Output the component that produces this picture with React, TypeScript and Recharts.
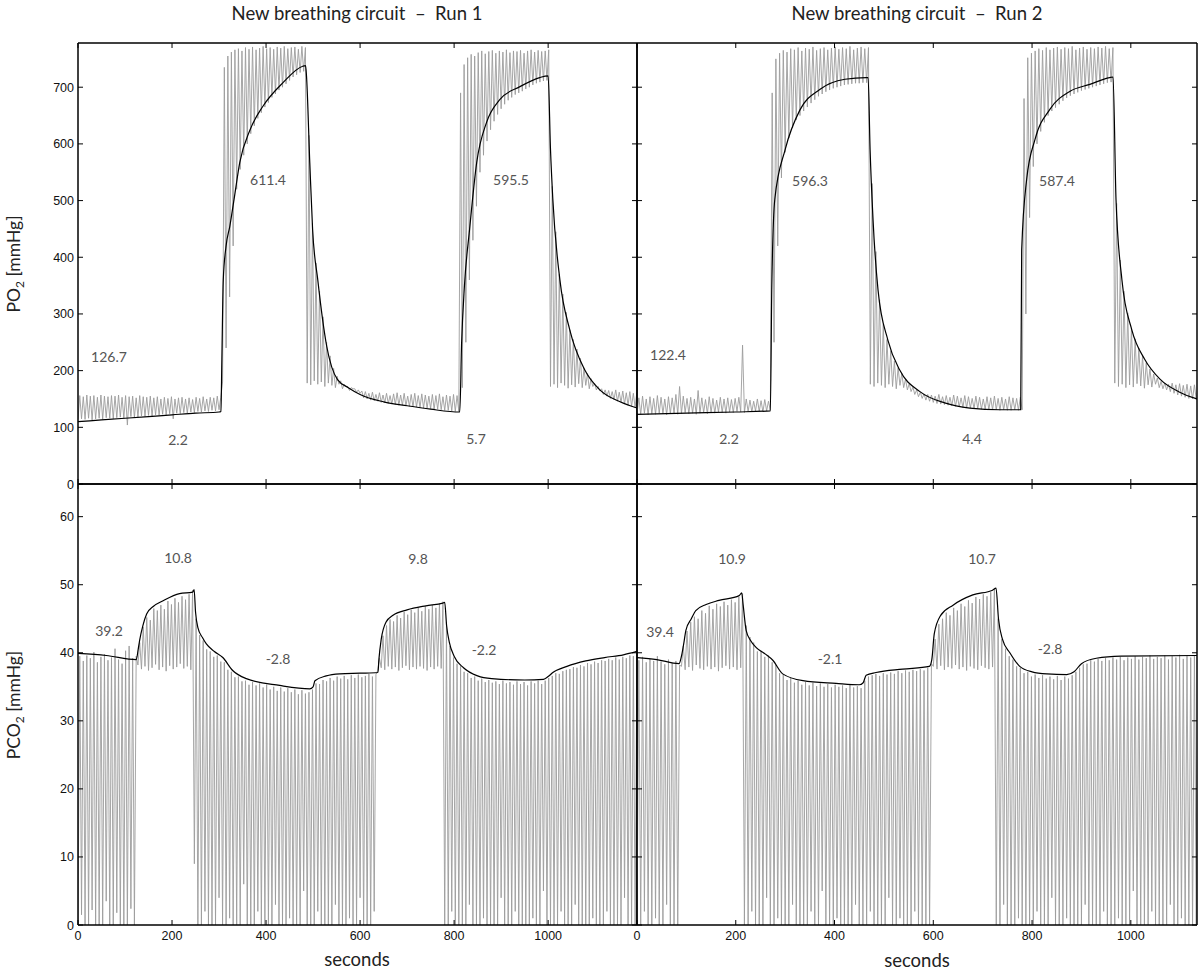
import React from "react";
import { LineChart, Line, XAxis, YAxis } from "recharts";

// one breath every 7.5 s: trough sample at the start, peak sample half way
const BREATH_SECONDS = 7.5;

const xTicks = [0, 200, 400, 600, 800, 1000];
const po2Ticks = [0, 100, 200, 300, 400, 500, 600, 700];
const pco2Ticks = [0, 10, 20, 30, 40, 50, 60];

// ---- Run 1, PO2 (raw trace, per breath) ----
const run1Po2Troughs = [
  114, 115, 114, 116, 113, 115, 116, 114, 117, 116,
  115, 117, 118, 116, 104, 119, 117, 118, 120, 119,
  121, 120, 122, 121, 123, 122, 124, 115, 125, 124,
  126, 125, 127, 126, 128, 127, 129, 128, 130, 129,
  131, 180, 240, 330, 420, 520, 555, 580, 600, 618,
  632, 645, 655, 665, 673, 682, 688, 695, 700, 706,
  712, 718, 722, 726, 728, 178, 175, 182, 176, 180,
  172, 178, 174, 170, 176, 168, 172, 165, 168, 162,
  160, 152, 150, 148, 147, 146, 144, 143, 142, 141,
  140, 139, 139, 138, 137, 136, 136, 135, 134, 134,
  133, 132, 132, 131, 130, 130, 129, 128, 128, 170,
  250, 360, 430, 490, 550, 580, 605, 625, 640, 652,
  662, 670, 677, 682, 687, 690, 693, 697, 700, 704,
  707, 709, 711, 712, 172, 176, 170, 178, 174, 169,
  175, 171, 177, 170, 174, 168, 172, 166, 164, 158,
  155, 151, 149, 146, 144, 141, 139, 137, 135,
];
const run1Po2Peaks = [
  156, 154, 157, 155, 156, 153, 157, 155, 154, 156,
  155, 157, 153, 156, 154, 155, 152, 156, 154, 153,
  155, 152, 154, 150, 153, 151, 154, 150, 152, 153,
  150, 152, 149, 153, 151, 154, 150, 153, 152, 155,
  153, 735, 755, 762, 766, 768, 764, 770, 767, 771,
  766, 769, 772, 768, 770, 767, 771, 769, 772, 768,
  770, 771, 767, 772, 770, 615, 460, 390, 340, 295,
  250, 226, 204, 190, 182, 176, 172, 170, 168, 166,
  164, 163, 160, 162, 158, 161, 157, 160, 156, 159,
  161, 157, 160, 155, 158, 160, 156, 159, 157, 155,
  158, 156, 159, 154, 157, 155, 158, 156, 690, 740,
  752, 758, 755, 761, 764, 759, 763, 765, 760, 764,
  762, 766, 761, 764, 763, 765, 760, 764, 766, 762,
  765, 763, 764, 766, 525, 445, 370, 335, 303, 272,
  255, 238, 222, 205, 195, 186, 178, 172, 168, 166,
  165, 163, 166, 162, 164, 161, 163, 160, 162,
];
// smoothed PO2, [seconds, mmHg]
const run1Po2Mean: [number, number][] = [
  [0, 110], [50, 113], [100, 116], [150, 119], [200, 122], [250, 125], [300, 127],
  [304, 128], [306, 220], [309, 360], [315, 420], [323, 455], [333, 508], [344, 567],
  [366, 625], [393, 666], [436, 708], [478, 737], [484, 738], [486, 720], [493, 567],
  [499, 449], [510, 360], [529, 243], [552, 184], [575, 170], [600, 158], [650, 145],
  [700, 138], [750, 132], [812, 127], [816, 250], [822, 350], [833, 450], [848, 567],
  [869, 638], [897, 678], [940, 701], [982, 717], [1000, 720], [1005, 590], [1010, 502],
  [1025, 360], [1046, 272], [1078, 201], [1110, 166], [1153, 145], [1189, 134],
];

// ---- Run 2, PO2 ----
const run2Po2Troughs = [
  124, 123, 125, 122, 124, 123, 125, 124, 122, 124,
  125, 123, 124, 126, 124, 125, 123, 125, 126, 124,
  126, 125, 127, 126, 125, 127, 126, 128, 127, 126,
  128, 127, 129, 128, 127, 129, 130, 250, 420, 540,
  585, 610, 628, 642, 650, 658, 665, 672, 678, 684,
  688, 692, 695, 698, 700, 702, 704, 705, 706, 707,
  707, 708, 708, 176, 172, 178, 174, 170, 176, 172,
  168, 174, 170, 166, 163, 158, 154, 151, 148, 146,
  144, 142, 141, 140, 139, 138, 137, 136, 135, 134,
  134, 133, 133, 132, 132, 131, 131, 131, 130, 131,
  130, 130, 131, 130, 131, 300, 470, 560, 600, 622,
  638, 650, 658, 664, 670, 676, 681, 685, 688, 691,
  694, 696, 698, 700, 702, 704, 706, 708, 709, 178,
  172, 176, 170, 175, 171, 177, 173, 169, 175, 171,
  176, 170, 168, 166, 163, 160, 157, 155, 153, 151,
  150, 149,
];
const run2Po2Peaks = [
  152, 155, 150, 154, 151, 156, 153, 150, 154, 152,
  158, 172, 155, 151, 153, 150, 165, 152, 149, 154,
  151, 148, 153, 150, 152, 149, 151, 153, 245, 150,
  148, 146, 150, 147, 149, 146, 690, 750, 760, 765,
  762, 768, 766, 770, 764, 769, 767, 771, 765, 768,
  770, 766, 769, 771, 767, 770, 768, 772, 766, 769,
  771, 768, 770, 530, 410, 325, 282, 255, 235, 217,
  205, 195, 185, 177, 171, 166, 162, 159, 158, 157,
  155, 158, 154, 156, 153, 157, 155, 152, 156, 154,
  151, 155, 153, 150, 154, 152, 155, 151, 153, 150,
  154, 152, 151, 153, 680, 752, 760, 764, 768, 765,
  770, 766, 769, 771, 767, 770, 768, 772, 766, 769,
  771, 767, 770, 768, 771, 769, 772, 768, 770, 495,
  395, 340, 302, 275, 256, 240, 226, 214, 203, 194,
  187, 181, 178, 176, 178, 175, 177, 174, 176, 173,
  175, 177,
];
const run2Po2Mean: [number, number][] = [
  [0, 123], [100, 125], [200, 127], [270, 129], [273, 350], [279, 502], [300, 590],
  [330, 660], [370, 696], [421, 714], [464, 717], [468, 717], [472, 590], [478, 466],
  [488, 343], [508, 254], [532, 201], [573, 163], [623, 143], [674, 134], [735, 131],
  [777, 131], [779, 413], [789, 537], [806, 608], [836, 661], [877, 693], [917, 705],
  [957, 717], [964, 718], [970, 502], [982, 360], [1002, 272], [1028, 220], [1059, 185],
  [1099, 162], [1134, 150],
];

// ---- Run 1, PCO2 ----
const run1Pco2Troughs = [
  0, 1.5, 0, 0, 2.2, 0, 0, 0, 3.5, 0,
  0, 1.8, 0, 0, 0, 2.4, 0, 38.2, 37.6, 38.0,
  37.4, 37.8, 38.3, 37.5, 37.9, 37.3, 38.1, 37.6, 37.9, 38.4,
  37.7, 38.0, 37.5, 9, 0, 0, 2, 0, 0, 0,
  4, 0, 0, 1, 0, 0, 0, 6, 0, 0,
  0, 2, 0, 0, 0, 0, 3, 0, 0, 0,
  1, 0, 0, 0, 5, 0, 0, 0, 2, 0,
  0, 0, 0, 3, 0, 0, 0, 1, 0, 0,
  4, 0, 0, 0, 2, 37.4, 37.8, 37.5, 38.0, 37.6,
  37.9, 37.4, 37.8, 38.1, 37.5, 37.9, 37.6, 38.0, 37.7, 37.4,
  37.9, 37.6, 38.0, 37.7, 0, 0, 2, 0, 0, 0,
  0, 3, 0, 0, 0, 1, 0, 0, 0, 0,
  4, 0, 0, 0, 2, 0, 0, 0, 0, 1,
  0, 0, 5, 0, 0, 0, 0, 2, 0, 0,
  0, 3, 0, 0, 0, 0, 1, 0, 0, 0,
  2, 0, 0, 0, 0, 4, 0, 0, 0,
];
const run1Pco2Peaks = [
  39.5, 38.8, 39.6, 39.2, 40.1, 38.6, 39.4, 39.8, 38.9, 39.3,
  40.6, 39.0, 38.4, 40.3, 41.0, 39.2, 39.5, 41.5, 43.8, 45.2,
  44.8, 46.5, 46.2, 47.0, 46.4, 47.6, 47.1, 48.0, 47.4, 48.3,
  47.8, 48.6, 49.2, 45.0, 42.6, 41.8, 40.5, 40.2, 39.4, 39.6,
  38.7, 38.6, 37.5, 37.2, 36.4, 36.5, 35.8, 35.9, 35.3, 35.7,
  35.2, 35.5, 34.9, 35.3, 34.6, 35.0, 34.4, 34.9, 34.3, 34.8,
  34.2, 34.6, 33.9, 34.5, 34.0, 34.2, 34.6, 35.5, 35.4, 36.0,
  35.8, 36.3, 35.9, 36.5, 36.2, 36.6, 36.1, 36.7, 36.3, 36.8,
  36.4, 36.6, 36.9, 36.5, 36.8, 39.2, 42.5, 44.0, 44.9, 44.6,
  45.5, 45.1, 46.0, 45.6, 46.3, 45.9, 46.6, 46.1, 46.8, 46.4,
  47.0, 46.6, 47.2, 47.5, 44.5, 41.0, 39.3, 38.4, 38.0, 37.2,
  37.0, 36.3, 36.5, 35.9, 36.2, 35.7, 36.0, 35.6, 35.8, 35.4,
  35.9, 35.5, 35.7, 35.3, 35.8, 35.4, 35.7, 35.2, 35.8, 35.5,
  35.9, 35.4, 35.9, 36.3, 36.6, 37.0, 36.9, 37.3, 37.5, 37.6,
  37.9, 37.8, 38.2, 38.0, 38.5, 38.3, 38.7, 38.5, 38.9, 38.8,
  39.1, 38.9, 39.3, 39.0, 39.4, 39.2, 39.6, 39.5, 39.9,
];
const run1Pco2Mean: [number, number][] = [
  [0, 39.9], [60, 39.6], [124, 39.0], [128, 40.5], [131, 41.8], [138, 44.0], [146, 45.7],
  [160, 46.8], [180, 47.6], [216, 48.7], [244, 48.9], [247, 49.3], [250, 46.0], [255, 43.7],
  [265, 42.2], [273, 41.3], [290, 40.2], [308, 39.3], [329, 37.4], [358, 36.2], [429, 35.2],
  [493, 34.7], [500, 35.0], [504, 35.9], [528, 36.6], [557, 36.9], [600, 37.0], [638, 37.1],
  [640, 39.0], [645, 42.0], [655, 44.5], [670, 45.5], [700, 46.3], [740, 46.9], [776, 47.3],
  [780, 47.4], [784, 44.0], [790, 41.5], [800, 39.5], [820, 37.8], [850, 36.6], [880, 36.2],
  [950, 36.0], [990, 36.1], [1000, 36.5], [1010, 37.1], [1040, 38.0], [1080, 38.8],
  [1120, 39.3], [1160, 39.7], [1189, 40.2],
];

// ---- Run 2, PCO2 ----
const run2Pco2Troughs = [
  0, 0, 2, 0, 0, 1, 0, 0, 3, 0,
  0, 0, 38.0, 37.5, 37.9, 37.4, 38.2, 37.7, 37.5, 38.0,
  37.6, 37.9, 37.3, 37.8, 38.1, 37.6, 37.9, 37.5, 37.8, 0,
  0, 2, 0, 0, 0, 4, 0, 0, 1, 0,
  0, 0, 3, 0, 0, 0, 0, 2, 0, 0,
  5, 0, 0, 0, 1, 0, 0, 0, 0, 3,
  0, 0, 0, 2, 0, 0, 0, 0, 4, 0,
  0, 1, 0, 0, 0, 2, 0, 0, 0, 0,
  38.0, 37.6, 38.1, 37.5, 37.9, 37.7, 38.2, 37.6, 37.9, 37.4,
  38.0, 37.7, 37.5, 38.1, 37.8, 37.6, 37.9, 0, 0, 3,
  0, 0, 0, 1, 0, 0, 0, 0, 2, 0,
  0, 0, 4, 0, 0, 0, 1, 0, 0, 0,
  0, 3, 0, 0, 0, 0, 2, 0, 0, 0,
  1, 0, 0, 0, 5, 0, 0, 0, 0, 2,
  0, 0, 0, 0, 3, 0, 0, 1, 0, 0,
  0, 0,
];
const run2Pco2Peaks = [
  38.9, 39.4, 38.6, 39.1, 38.8, 39.5, 38.7, 38.3, 39.0, 38.5,
  38.8, 38.2, 41.0, 43.2, 44.5, 45.3, 45.0, 46.2, 45.8, 46.9,
  46.4, 47.2, 46.8, 47.5, 47.0, 47.8, 47.4, 48.2, 48.7, 44.0,
  42.3, 41.5, 40.2, 40.3, 39.4, 39.6, 38.6, 38.2, 37.0, 36.8,
  36.0, 36.3, 35.6, 35.9, 35.3, 35.7, 35.2, 35.6, 35.1, 35.5,
  35.0, 35.4, 34.9, 35.3, 35.0, 35.2, 34.8, 35.3, 34.9, 35.1,
  34.8, 35.9, 36.5, 36.7, 36.9, 36.6, 37.0, 36.8, 37.1, 36.9,
  37.3, 37.0, 37.4, 37.2, 37.5, 37.3, 37.6, 37.4, 37.8, 38.4,
  42.0, 44.2, 45.0, 45.9, 45.5, 46.6, 46.2, 47.2, 46.8, 47.7,
  47.3, 48.2, 47.9, 48.6, 48.3, 48.9, 49.4, 45.0, 42.0, 40.6,
  39.5, 39.0, 38.0, 37.8, 37.0, 37.2, 36.5, 36.8, 36.3, 36.7,
  36.2, 36.5, 36.1, 36.6, 36.0, 36.5, 36.2, 36.7, 37.2, 37.8,
  38.3, 38.4, 38.9, 38.7, 39.1, 38.8, 39.2, 38.9, 39.3, 39.0,
  39.4, 38.9, 39.3, 39.1, 39.5, 39.0, 39.4, 39.2, 39.6, 39.1,
  39.4, 39.2, 39.6, 39.0, 39.5, 39.3, 39.7, 39.1, 39.5, 39.3,
  39.6, 39.4,
];
const run2Pco2Mean: [number, number][] = [
  [0, 39.3], [40, 39.0], [85, 38.4], [90, 39.5], [95, 41.5], [99, 43.3], [110, 45.0],
  [119, 46.2], [140, 47.1], [166, 47.7], [207, 48.4], [212, 48.8], [215, 47.0], [221, 43.3],
  [230, 41.8], [241, 40.8], [260, 39.8], [275, 38.9], [295, 36.9], [336, 35.9], [403, 35.5],
  [450, 35.3], [458, 35.6], [464, 36.7], [484, 37.1], [538, 37.6], [592, 38.0], [597, 39.0],
  [602, 42.8], [615, 45.5], [640, 47.0], [680, 48.5], [720, 49.2], [727, 49.5], [732, 45.0],
  [740, 42.0], [755, 40.0], [775, 38.0], [800, 37.2], [830, 36.9], [870, 36.8], [885, 37.2],
  [900, 38.4], [930, 39.2], [980, 39.5], [1134, 39.6],
];

type Pt = { t: number; v: number };

function breathTrace(troughs: number[], peaks: number[]): Pt[] {
  const out: Pt[] = [];
  troughs.forEach((low, i) => {
    out.push({ t: i * BREATH_SECONDS, v: low });
    out.push({ t: i * BREATH_SECONDS + BREATH_SECONDS / 2, v: peaks[i] });
  });
  return out;
}

const toPts = (rows: [number, number][]): Pt[] => rows.map(([t, v]) => ({ t, v }));

const TICK_FONT = '"Liberation Sans", Arial, Helvetica, sans-serif';
const HUMAN_FONT = 'Lato, "Open Sans", "Noto Sans", sans-serif';
const TICK_LEN = 5;
const frame = { stroke: "#000", strokeWidth: 1.5 };
const GAP = "\u00a0\u00a0–\u00a0\u00a0";

type Side = "bottom" | "top" | "left" | "right";

function tickFor(side: Side, showLabel: boolean) {
  return (props: any) => {
    const { x, y, payload } = props;
    let x2 = x;
    let y2 = y;
    if (side === "bottom") y2 = y - TICK_LEN;
    if (side === "top") y2 = y + TICK_LEN;
    if (side === "left") x2 = x + TICK_LEN;
    if (side === "right") x2 = x - TICK_LEN;
    return (
      <g>
        <line x1={x} y1={y} x2={x2} y2={y2} stroke="#000" strokeWidth={1} />
        {showLabel && side === "bottom" && (
          <text x={x} y={y + 15} textAnchor="middle" fontFamily={TICK_FONT} fontSize={12.5} fill="#111">
            {payload.value}
          </text>
        )}
        {showLabel && side === "left" && (
          <text x={x - 4} y={y + 4.5} textAnchor="end" fontFamily={TICK_FONT} fontSize={12.5} fill="#111">
            {payload.value}
          </text>
        )}
      </g>
    );
  };
}

interface PanelProps {
  trace: Pt[];
  mean: Pt[];
  xMax: number;
  yMax: number;
  yTicks: number[];
  left: number;
  right: number;
  top: number;
  bottom: number;
  yLabels: boolean;
  xLabels: boolean;
}

// axes are 1px thick (recharts skips 0-sized axes), the margins take that into account
function Panel({ trace, mean, xMax, yMax, yTicks, left, right, top, bottom, yLabels, xLabels }: PanelProps) {
  return (
    <div style={{ position: "absolute", left: 0, top: 0 }}>
      <LineChart
        width={1200}
        height={971}
        margin={{ left: left - 1, top: top - 1, right: 1200 - right - 1, bottom: 971 - bottom - 1 }}
      >
        <XAxis
          xAxisId="b"
          type="number"
          dataKey="t"
          orientation="bottom"
          domain={[0, xMax]}
          allowDataOverflow
          ticks={xTicks}
          interval={0}
          height={1}
          tickSize={0}
          tickMargin={0}
          tickLine={false}
          axisLine={frame}
          tick={tickFor("bottom", xLabels)}
        />
        <XAxis
          xAxisId="t"
          type="number"
          dataKey="t"
          orientation="top"
          domain={[0, xMax]}
          allowDataOverflow
          ticks={xTicks}
          interval={0}
          height={1}
          tickSize={0}
          tickMargin={0}
          tickLine={false}
          axisLine={frame}
          tick={tickFor("top", false)}
        />
        <YAxis
          yAxisId="l"
          type="number"
          orientation="left"
          domain={[0, yMax]}
          allowDataOverflow
          ticks={yTicks}
          interval={0}
          width={1}
          tickSize={0}
          tickMargin={0}
          tickLine={false}
          axisLine={frame}
          tick={tickFor("left", yLabels)}
        />
        <YAxis
          yAxisId="r"
          type="number"
          orientation="right"
          domain={[0, yMax]}
          allowDataOverflow
          ticks={yTicks}
          interval={0}
          width={1}
          tickSize={0}
          tickMargin={0}
          tickLine={false}
          axisLine={frame}
          tick={tickFor("right", false)}
        />
        <Line
          xAxisId="b"
          yAxisId="l"
          data={trace}
          dataKey="v"
          type="linear"
          stroke="#9c9c9c"
          strokeWidth={0.9}
          dot={false}
          activeDot={false}
          isAnimationActive={false}
        />
        <Line
          xAxisId="b"
          yAxisId="l"
          data={mean}
          dataKey="v"
          type="monotone"
          stroke="#000"
          strokeWidth={1.2}
          dot={false}
          activeDot={false}
          isAnimationActive={false}
        />
      </LineChart>
    </div>
  );
}

const note = { fontFamily: HUMAN_FONT, fontSize: 14, fill: "#555", textAnchor: "middle" as const, dominantBaseline: "central" as const };

function Note({ x, y, children }: { x: number; y: number; children: React.ReactNode }) {
  return (
    <text x={x} y={y} {...note}>
      {children}
    </text>
  );
}

export default function App() {
  const X_L = 78;
  const X_M = 637;
  const X_R = 1197;
  const Y_T = 43;
  const Y_M = 484;
  const Y_B = 925;
  return (
    <div style={{ position: "absolute", left: 0, top: 0, width: 1200, height: 971, background: "#fff", overflow: "hidden" }}>
      <Panel
        trace={breathTrace(run1Po2Troughs, run1Po2Peaks)}
        mean={toPts(run1Po2Mean)}
        xMax={1189}
        yMax={778}
        yTicks={po2Ticks}
        left={X_L}
        right={X_M}
        top={Y_T}
        bottom={Y_M}
        yLabels
        xLabels={false}
      />
      <Panel
        trace={breathTrace(run2Po2Troughs, run2Po2Peaks)}
        mean={toPts(run2Po2Mean)}
        xMax={1134}
        yMax={778}
        yTicks={po2Ticks}
        left={X_M}
        right={X_R}
        top={Y_T}
        bottom={Y_M}
        yLabels={false}
        xLabels={false}
      />
      <Panel
        trace={breathTrace(run1Pco2Troughs, run1Pco2Peaks)}
        mean={toPts(run1Pco2Mean)}
        xMax={1189}
        yMax={64.8}
        yTicks={pco2Ticks}
        left={X_L}
        right={X_M}
        top={Y_M}
        bottom={Y_B}
        yLabels
        xLabels
      />
      <Panel
        trace={breathTrace(run2Pco2Troughs, run2Pco2Peaks)}
        mean={toPts(run2Pco2Mean)}
        xMax={1134}
        yMax={64.8}
        yTicks={pco2Ticks}
        left={X_M}
        right={X_R}
        top={Y_M}
        bottom={Y_B}
        yLabels={false}
        xLabels
      />
      <svg width={1200} height={971} style={{ position: "absolute", left: 0, top: 0, pointerEvents: "none" }}>
        <text x={357} y={13} textAnchor="middle" dominantBaseline="central" fontFamily={HUMAN_FONT} fontSize={18.5} fill="#222">
          {`New breathing circuit${GAP}Run 1`}
        </text>
        <text x={917} y={13} textAnchor="middle" dominantBaseline="central" fontFamily={HUMAN_FONT} fontSize={18.5} fill="#222">
          {`New breathing circuit${GAP}Run 2`}
        </text>
        <text x={357} y={959} textAnchor="middle" dominantBaseline="central" fontFamily={HUMAN_FONT} fontSize={18.5} fill="#222">
          seconds
        </text>
        <text x={917} y={960} textAnchor="middle" dominantBaseline="central" fontFamily={HUMAN_FONT} fontSize={18.5} fill="#222">
          seconds
        </text>
        <text transform="translate(20 264) rotate(-90)" textAnchor="middle" fontFamily={HUMAN_FONT} fontSize={17.5} fill="#222">
          PO<tspan fontSize={12} dy={4}>2</tspan>
          <tspan dy={-4}> [mmHg]</tspan>
        </text>
        <text transform="translate(20 705) rotate(-90)" textAnchor="middle" fontFamily={HUMAN_FONT} fontSize={17.5} fill="#222">
          PCO<tspan fontSize={12} dy={4}>2</tspan>
          <tspan dy={-4}> [mmHg]</tspan>
        </text>

        <Note x={109} y={356}>126.7</Note>
        <Note x={178} y={439}>2.2</Note>
        <Note x={268} y={179}>611.4</Note>
        <Note x={511} y={179}>595.5</Note>
        <Note x={476} y={438}>5.7</Note>

        <Note x={668} y={354}>122.4</Note>
        <Note x={729} y={438}>2.2</Note>
        <Note x={810} y={180}>596.3</Note>
        <Note x={1057} y={180}>587.4</Note>
        <Note x={972} y={438}>4.4</Note>

        <Note x={109} y={630}>39.2</Note>
        <Note x={178} y={557}>10.8</Note>
        <Note x={278} y={658}>-2.8</Note>
        <Note x={418} y={558}>9.8</Note>
        <Note x={484} y={649}>-2.2</Note>

        <Note x={660} y={631}>39.4</Note>
        <Note x={732} y={558}>10.9</Note>
        <Note x={830} y={658}>-2.1</Note>
        <Note x={982} y={558}>10.7</Note>
        <Note x={1050} y={648}>-2.8</Note>
      </svg>
    </div>
  );
}
